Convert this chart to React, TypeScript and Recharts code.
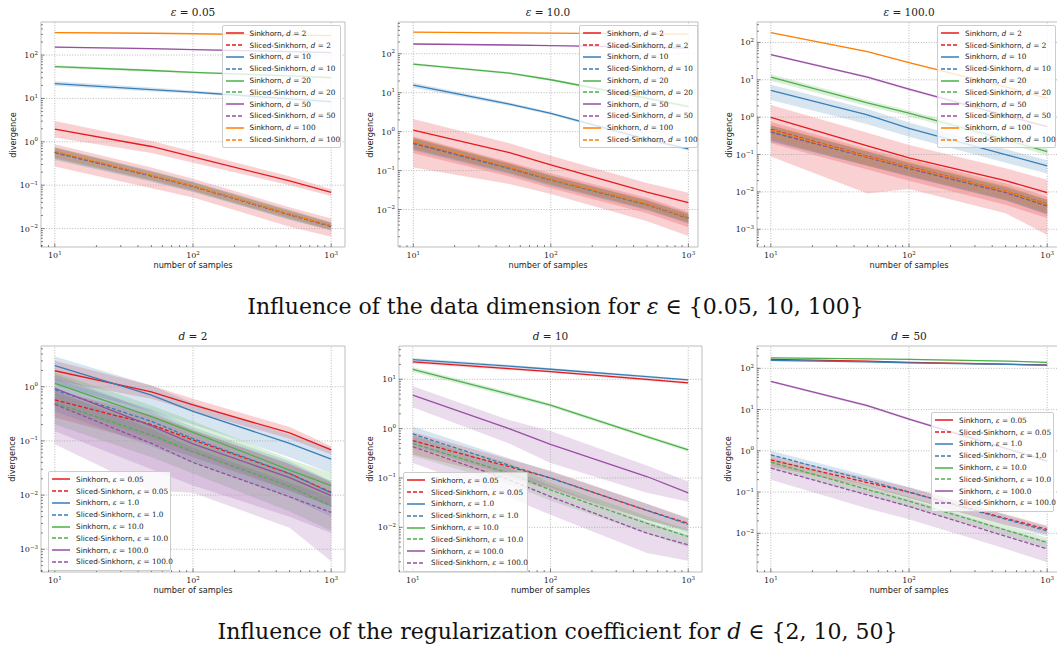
import React from "react";
import { Area, ComposedChart, Line, ReferenceArea, ReferenceLine, XAxis, YAxis } from "recharts";

const SAMPLES = [10, 50, 100, 500, 1000];

const DIMS = ["2", "10", "20", "50", "100"];
const EPSILONS = ["0.05", "1.0", "10.0", "100.0"];

// rows alternate: Sinkhorn, Sliced-Sinkhorn for each d (or ε) in order
const EPS005_MEAN = [
  [1.95, 0.78, 0.45, 0.125, 0.068],
  [0.58, 0.165, 0.095, 0.021, 0.0115],
  [22, 16, 14, 9.8, 8.4],
  [0.56, 0.163, 0.094, 0.021, 0.0113],
  [54, 44, 40, 33, 30],
  [0.57, 0.165, 0.095, 0.0212, 0.0114],
  [152, 140, 134, 120, 114],
  [0.57, 0.164, 0.094, 0.021, 0.0112],
  [330, 318, 310, 290, 280],
  [0.6, 0.17, 0.096, 0.0215, 0.0116],
];
const EPS005_LO = [
  [1.25, 0.55, 0.33, 0.1, 0.056],
  [0.27, 0.085, 0.052, 0.011, 0.0065],
  [19.5, 14.5, 13, 9.1, 7.8],
  [0.38, 0.12, 0.07, 0.016, 0.009],
  [50, 41, 38, 31, 28.5],
  [0.4, 0.125, 0.072, 0.016, 0.0092],
  [146, 135, 130, 116, 111],
  [0.42, 0.13, 0.074, 0.017, 0.0093],
  [322, 312, 305, 285, 276],
  [0.44, 0.135, 0.076, 0.0175, 0.0095],
];
const EPS005_HI = [
  [3.0, 1.05, 0.6, 0.16, 0.081],
  [0.88, 0.255, 0.14, 0.031, 0.017],
  [25, 17.8, 15.2, 10.6, 9.1],
  [0.75, 0.215, 0.12, 0.027, 0.014],
  [58, 47, 42, 35, 32],
  [0.74, 0.21, 0.118, 0.026, 0.0138],
  [158, 145, 138, 124, 117],
  [0.72, 0.205, 0.115, 0.025, 0.0135],
  [338, 324, 315, 295, 284],
  [0.74, 0.205, 0.116, 0.026, 0.0138],
];

const EPS10_MEAN = [
  [1.1, 0.29, 0.14, 0.028, 0.015],
  [0.5, 0.115, 0.058, 0.0135, 0.006],
  [15.7, 5.1, 2.95, 0.63, 0.36],
  [0.5, 0.113, 0.057, 0.0133, 0.0062],
  [54, 32, 21.5, 7.2, 4.4],
  [0.52, 0.117, 0.058, 0.0135, 0.006],
  [178, 168, 162, 148, 140],
  [0.52, 0.118, 0.059, 0.0137, 0.0061],
  [360, 345, 340, 325, 320],
  [0.55, 0.122, 0.06, 0.014, 0.0062],
];
const EPS10_LO = [
  [0.12, 0.045, 0.025, 0.005, 0.0021],
  [0.28, 0.07, 0.035, 0.008, 0.0035],
  [13.5, 4.6, 2.7, 0.57, 0.33],
  [0.33, 0.08, 0.04, 0.0095, 0.0043],
  [50, 30, 20, 6.6, 4.0],
  [0.35, 0.085, 0.042, 0.01, 0.0045],
  [172, 163, 158, 144, 136],
  [0.36, 0.088, 0.044, 0.0102, 0.0046],
  [352, 338, 334, 320, 315],
  [0.38, 0.09, 0.045, 0.0105, 0.0047],
];
const EPS10_HI = [
  [2.1, 0.5, 0.24, 0.048, 0.027],
  [0.75, 0.165, 0.085, 0.02, 0.0087],
  [18, 5.6, 3.2, 0.69, 0.39],
  [0.68, 0.15, 0.075, 0.0175, 0.008],
  [58, 34, 23, 7.8, 4.8],
  [0.7, 0.15, 0.075, 0.017, 0.0077],
  [184, 173, 166, 152, 144],
  [0.68, 0.152, 0.074, 0.017, 0.0076],
  [368, 352, 346, 330, 325],
  [0.72, 0.154, 0.075, 0.0175, 0.0077],
];

const EPS100_MEAN = [
  [0.98, 0.17, 0.081, 0.02, 0.0095],
  [0.47, 0.09, 0.047, 0.0105, 0.0047],
  [5.2, 1.15, 0.5, 0.1, 0.05],
  [0.4, 0.085, 0.043, 0.0098, 0.0043],
  [11.8, 2.4, 1.28, 0.25, 0.12],
  [0.42, 0.086, 0.043, 0.0098, 0.0044],
  [47, 11.8, 5.6, 1.1, 0.56],
  [0.4, 0.084, 0.042, 0.0095, 0.0042],
  [182, 57, 29, 6.5, 3.2],
  [0.45, 0.088, 0.046, 0.0105, 0.0046],
];
const EPS100_LO = [
  [0.088, 0.009, 0.012, 0.0027, 0.0007],
  [0.2, 0.04, 0.02, 0.0045, 0.002],
  [2.9, 0.65, 0.3, 0.06, 0.031],
  [0.22, 0.05, 0.026, 0.006, 0.0025],
  [9.5, 1.95, 1.05, 0.2, 0.095],
  [0.24, 0.05, 0.027, 0.006, 0.0026],
  [44, 11, 5.2, 1.03, 0.52],
  [0.23, 0.05, 0.026, 0.006, 0.0025],
  [176, 55, 28, 6.2, 3.05],
  [0.26, 0.052, 0.028, 0.0065, 0.0028],
];
const EPS100_HI = [
  [2.1, 0.38, 0.18, 0.043, 0.021],
  [0.75, 0.14, 0.075, 0.017, 0.0075],
  [7.4, 1.65, 0.72, 0.14, 0.07],
  [0.6, 0.12, 0.06, 0.014, 0.0062],
  [14, 2.85, 1.5, 0.3, 0.145],
  [0.6, 0.12, 0.06, 0.0137, 0.0062],
  [50, 12.6, 6.0, 1.17, 0.6],
  [0.58, 0.118, 0.058, 0.013, 0.006],
  [188, 59, 30, 6.8, 3.35],
  [0.64, 0.124, 0.064, 0.0145, 0.0064],
];

const D2_MEAN = [
  [1.97, 0.8, 0.46, 0.14, 0.068],
  [0.57, 0.2, 0.104, 0.025, 0.0112],
  [2.45, 0.7, 0.35, 0.09, 0.046],
  [0.87, 0.23, 0.11, 0.025, 0.011],
  [1.15, 0.28, 0.144, 0.029, 0.015],
  [0.5, 0.128, 0.063, 0.0145, 0.0063],
  [0.93, 0.19, 0.088, 0.021, 0.0098],
  [0.47, 0.09, 0.04, 0.0093, 0.0048],
];
const D2_LO = [
  [1.3, 0.6, 0.35, 0.11, 0.056],
  [0.27, 0.09, 0.05, 0.012, 0.0062],
  [1.1, 0.35, 0.2, 0.05, 0.025],
  [0.35, 0.08, 0.04, 0.009, 0.004],
  [0.45, 0.11, 0.06, 0.012, 0.006],
  [0.2, 0.05, 0.025, 0.005, 0.0022],
  [0.15, 0.03, 0.015, 0.004, 0.002],
  [0.087, 0.012, 0.011, 0.0025, 0.0006],
];
const D2_HI = [
  [3.0, 1.05, 0.6, 0.18, 0.08],
  [0.87, 0.3, 0.16, 0.037, 0.017],
  [3.6, 1.05, 0.5, 0.13, 0.075],
  [1.4, 0.38, 0.18, 0.042, 0.018],
  [1.85, 0.45, 0.23, 0.046, 0.025],
  [0.8, 0.2, 0.1, 0.024, 0.0105],
  [1.7, 0.35, 0.155, 0.038, 0.018],
  [0.85, 0.165, 0.075, 0.017, 0.009],
];

const D10_MEAN = [
  [22.5, 16.5, 14.3, 10, 8.5],
  [0.57, 0.17, 0.1, 0.022, 0.012],
  [25, 18.5, 16, 11.3, 9.7],
  [0.78, 0.18, 0.1, 0.022, 0.0115],
  [15.9, 5.0, 3.0, 0.69, 0.37],
  [0.5, 0.125, 0.057, 0.012, 0.0065],
  [4.8, 1.0, 0.48, 0.107, 0.05],
  [0.43, 0.092, 0.042, 0.0076, 0.0044],
];
const D10_LO = [
  [21, 15.5, 13.5, 9.4, 8.0],
  [0.3, 0.1, 0.06, 0.014, 0.0085],
  [23, 17.3, 15, 10.7, 9.2],
  [0.45, 0.11, 0.065, 0.014, 0.008],
  [14, 4.5, 2.75, 0.64, 0.34],
  [0.28, 0.075, 0.035, 0.0075, 0.004],
  [2.7, 0.5, 0.2, 0.05, 0.033],
  [0.2, 0.04, 0.018, 0.003, 0.0021],
];
const D10_HI = [
  [24, 17.5, 15.1, 10.6, 9.0],
  [0.85, 0.24, 0.14, 0.03, 0.0155],
  [27, 19.7, 17, 11.9, 10.2],
  [1.1, 0.25, 0.135, 0.03, 0.015],
  [17.8, 5.5, 3.25, 0.74, 0.4],
  [0.72, 0.2, 0.08, 0.017, 0.009],
  [7.2, 1.5, 0.9, 0.18, 0.085],
  [0.75, 0.16, 0.07, 0.013, 0.0068],
];

const D50_MEAN = [
  [165, 150, 140, 126, 120],
  [0.6, 0.17, 0.1, 0.023, 0.0125],
  [155, 143, 135, 124, 120],
  [0.8, 0.19, 0.1, 0.022, 0.0114],
  [180, 170, 165, 150, 140],
  [0.53, 0.115, 0.06, 0.012, 0.006],
  [48, 12.4, 5.9, 1.15, 0.57],
  [0.38, 0.085, 0.045, 0.0085, 0.0042],
];
const D50_LO = [
  [160, 146, 136, 122, 116],
  [0.42, 0.13, 0.072, 0.016, 0.0095],
  [149, 138, 131, 120, 116],
  [0.55, 0.14, 0.072, 0.016, 0.0085],
  [175, 165, 160, 146, 136],
  [0.38, 0.085, 0.043, 0.0088, 0.0043],
  [45, 11.6, 5.5, 1.07, 0.53],
  [0.2, 0.04, 0.022, 0.0042, 0.002],
];
const D50_HI = [
  [170, 154, 144, 130, 124],
  [0.78, 0.22, 0.13, 0.029, 0.0155],
  [161, 148, 139, 128, 124],
  [1.0, 0.25, 0.13, 0.028, 0.0145],
  [185, 175, 170, 154, 144],
  [0.68, 0.15, 0.077, 0.016, 0.0078],
  [51, 13.2, 6.3, 1.23, 0.61],
  [0.56, 0.13, 0.068, 0.0128, 0.0064],
];

const SET1 = ["#e41a1c", "#377eb8", "#4daf4a", "#984ea3", "#ff7f00"];
const SANS = "'DejaVu Sans', sans-serif";
const SERIF = "'DejaVu Serif', serif";

type PanelSpec = {
  symbol: string;
  value: string;
  legendSymbol: string;
  legendValues: string[];
  mean: number[][];
  lo: number[][];
  hi: number[][];
  box: [number, number, number, number]; // left, top, width, height of the axes frame
  xExp: [number, number];
  yExp: [number, number];
  legend: [number, number, number];
};

const PANELS: PanelSpec[] = [
  { symbol: "ε", value: "0.05", legendSymbol: "d", legendValues: DIMS, mean: EPS005_MEAN, lo: EPS005_LO, hi: EPS005_HI,
    box: [41, 22, 304, 225], xExp: [0.9, 3.1], yExp: [-2.425, 2.762], legend: [221.5, 24.5, 119.5] },
  { symbol: "ε", value: "10.0", legendSymbol: "d", legendValues: DIMS, mean: EPS10_MEAN, lo: EPS10_LO, hi: EPS10_HI,
    box: [398, 22, 300, 225], xExp: [0.889, 3.07], yExp: [-2.963, 2.816], legend: [579, 24.5, 118.5] },
  { symbol: "ε", value: "100.0", legendSymbol: "d", legendValues: DIMS, mean: EPS100_MEAN, lo: EPS100_LO, hi: EPS100_HI,
    box: [757, 22, 304, 225], xExp: [0.9, 3.1], yExp: [-3.475, 2.547], legend: [937, 24.5, 119] },
  { symbol: "d", value: "2", legendSymbol: "ε", legendValues: EPSILONS, mean: D2_MEAN, lo: D2_LO, hi: D2_HI,
    box: [41, 346, 304, 226], xExp: [0.9, 3.1], yExp: [-3.419, 0.751], legend: [48, 470.5, 122.5] },
  { symbol: "d", value: "10", legendSymbol: "ε", legendValues: EPSILONS, mean: D10_MEAN, lo: D10_LO, hi: D10_HI,
    box: [399, 346, 303, 226], xExp: [0.9, 3.1], yExp: [-2.906, 1.675], legend: [403, 471.5, 125] },
  { symbol: "d", value: "50", legendSymbol: "ε", legendValues: EPSILONS, mean: D50_MEAN, lo: D50_LO, hi: D50_HI,
    box: [757, 346, 304, 226], xExp: [0.9, 3.1], yExp: [-2.938, 2.541], legend: [931, 411.5, 123] },
];

const isMajor = (v: number) => {
  const e = Math.log10(v);
  return Math.abs(e - Math.round(e)) < 1e-6;
};

const expLabel = (v: number) => {
  const e = Math.round(Math.log10(v));
  return e < 0 ? "\u2212" + Math.abs(e) : String(e);
};

// decade ticks 1..9 x 10^e that fall inside the axis range
function logTicks([lo, hi]: [number, number]) {
  const ticks: number[] = [];
  for (let e = Math.floor(lo); e <= Math.ceil(hi); e++) {
    for (let m = 1; m <= 9; m++) {
      const v = m * Math.pow(10, e);
      const l = Math.log10(v);
      if (l >= lo && l <= hi) ticks.push(v);
    }
  }
  return ticks;
}

function XTick(props: any) {
  const { x, y, payload } = props;
  const major = isMajor(payload.value);
  return (
    <g>
      <line x1={x} x2={x} y1={y} y2={y - (major ? 3.5 : 2)} stroke="#333" strokeWidth={0.6} />
      {major && (
        <text x={x} y={y + 11} textAnchor="middle" fontFamily={SERIF} fontSize={8} fill="#222">
          10<tspan dy={-3.5} fontSize={5.5}>{expLabel(payload.value)}</tspan>
        </text>
      )}
    </g>
  );
}

function YTick(props: any) {
  const { x, y, payload } = props;
  const major = isMajor(payload.value);
  return (
    <g>
      <line x1={x} x2={x + (major ? 3.5 : 2)} y1={y} y2={y} stroke="#333" strokeWidth={0.6} />
      {major && (
        <text x={x - 3} y={y + 3} textAnchor="end" fontFamily={SERIF} fontSize={8} fill="#222">
          10<tspan dy={-3.5} fontSize={5.5}>{expLabel(payload.value)}</tspan>
        </text>
      )}
    </g>
  );
}

function LegendBox({ spec }: { spec: PanelSpec }) {
  const [left, top, width] = spec.legend;
  const items = spec.legendValues.flatMap((v, i) => [
    { method: "Sinkhorn", v, color: SET1[i], dashed: false },
    { method: "Sliced-Sinkhorn", v, color: SET1[i], dashed: true },
  ]);
  return (
    <div style={{
      position: "absolute", left, top, width, boxSizing: "border-box", padding: "2px 0",
      background: "rgba(255,255,255,0.8)", border: "1px solid #cccccc", borderRadius: 2,
    }}>
      {items.map((it) => (
        <div key={it.method + it.v} style={{ display: "flex", alignItems: "center", height: 11.8, whiteSpace: "nowrap" }}>
          <svg width={18} height={6} style={{ marginLeft: 3, flex: "none" }}>
            <line x1={0} x2={18} y1={3} y2={3} stroke={it.color} strokeWidth={1.5}
              strokeDasharray={it.dashed ? "4 2" : undefined} />
          </svg>
          <span style={{ marginLeft: 6, fontFamily: SANS, fontSize: 7.3, color: "#222" }}>{it.method},&nbsp;</span>
          <span style={{ fontFamily: SERIF, fontSize: 7.3, color: "#222" }}>
            <i>{spec.legendSymbol}</i> = {it.v}
          </span>
        </div>
      ))}
    </div>
  );
}

function Panel({ spec }: { spec: PanelSpec }) {
  const [L, T, W, H] = spec.box;
  const PL = 45, PT = 24, PR = 8, PB = 30;
  const XH = 20, YW = 36;

  const data = SAMPLES.map((n, i) => {
    const row: Record<string, number | number[]> = { n };
    spec.mean.forEach((s, k) => {
      row[`m${k}`] = s[i];
      row[`b${k}`] = [spec.lo[k][i], spec.hi[k][i]];
    });
    return row;
  });

  const xDom = [10 ** spec.xExp[0], 10 ** spec.xExp[1]];
  const yDom = [10 ** spec.yExp[0], 10 ** spec.yExp[1]];
  const xTicks = logTicks(spec.xExp);
  const yTicks = logTicks(spec.yExp);

  return (
    <>
      <div style={{ position: "absolute", left: L - PL, top: T - PT }}>
        <ComposedChart width={W + PL + PR} height={H + PT + PB} data={data}
          margin={{ top: PT, right: PR, bottom: PB - XH, left: PL - YW }}>
          <XAxis dataKey="n" type="number" scale="log" domain={xDom} allowDataOverflow ticks={xTicks}
            interval={0} tick={<XTick />} tickSize={0} tickMargin={0} tickLine={false} axisLine={false} height={XH} />
          <YAxis type="number" scale="log" domain={yDom} allowDataOverflow ticks={yTicks}
            interval={0} tick={<YTick />} tickSize={0} tickMargin={0} tickLine={false} axisLine={false} width={YW} />
          {xTicks.filter(isMajor).map((v) => (
            <ReferenceLine key={`gx${v}`} x={v} stroke="#a8a8a8" strokeWidth={0.8} strokeDasharray="1 1.6" />
          ))}
          {yTicks.filter(isMajor).map((v) => (
            <ReferenceLine key={`gy${v}`} y={v} stroke="#a8a8a8" strokeWidth={0.8} strokeDasharray="1 1.6" />
          ))}
          {spec.mean.map((_, k) => (
            <React.Fragment key={k}>
              <Area dataKey={`b${k}`} type="linear" stroke="none" fill={SET1[Math.floor(k / 2)]} fillOpacity={0.2}
                dot={false} activeDot={false} legendType="none" isAnimationActive={false} />
              <Line dataKey={`m${k}`} type="linear" stroke={SET1[Math.floor(k / 2)]} strokeWidth={1.3}
                strokeDasharray={k % 2 ? "4 2" : undefined} dot={false} activeDot={false} isAnimationActive={false} />
            </React.Fragment>
          ))}
          <ReferenceArea x1={xDom[0]} x2={xDom[1]} y1={yDom[0]} y2={yDom[1]} fill="none"
            stroke="#bdbdbd" strokeWidth={1} ifOverflow="visible" />
        </ComposedChart>
      </div>
      <div style={{
        position: "absolute", left: L, top: T - 17, width: W, textAlign: "center",
        fontFamily: SERIF, fontSize: 10.5, lineHeight: "14px", color: "#222",
      }}>
        <i>{spec.symbol}</i> = {spec.value}
      </div>
      <div style={{
        position: "absolute", left: L, top: T + H + 11.5, width: W, textAlign: "center",
        fontFamily: SANS, fontSize: 8.2, lineHeight: "12px", color: "#222",
      }}>
        number of samples
      </div>
      <div style={{
        position: "absolute", left: L - 29 - H / 2, top: T + H / 2 - 6, width: H, textAlign: "center",
        transform: "rotate(-90deg)", fontFamily: SANS, fontSize: 8.2, lineHeight: "12px", color: "#222",
      }}>
        divergence
      </div>
      <LegendBox spec={spec} />
    </>
  );
}

export default function App() {
  return (
    <div style={{ position: "absolute", left: 0, top: 0, width: 1057, height: 649, overflow: "hidden", background: "#fff" }}>
      {PANELS.map((p) => <Panel key={p.symbol + p.value} spec={p} />)}
      <div style={{
        position: "absolute", left: 0, top: 294, width: 1111, textAlign: "center",
        fontFamily: SERIF, fontSize: 22, lineHeight: "26px", color: "#111",
      }}>
        Influence of the data dimension for <i>ε</i> ∈ {"{"}0.05, 10, 100{"}"}
      </div>
      <div style={{
        position: "absolute", left: 0, top: 619, width: 1115, textAlign: "center",
        fontFamily: SERIF, fontSize: 22, lineHeight: "26px", color: "#111",
      }}>
        Influence of the regularization coefficient for <i>d</i> ∈ {"{"}2, 10, 50{"}"}
      </div>
    </div>
  );
}
